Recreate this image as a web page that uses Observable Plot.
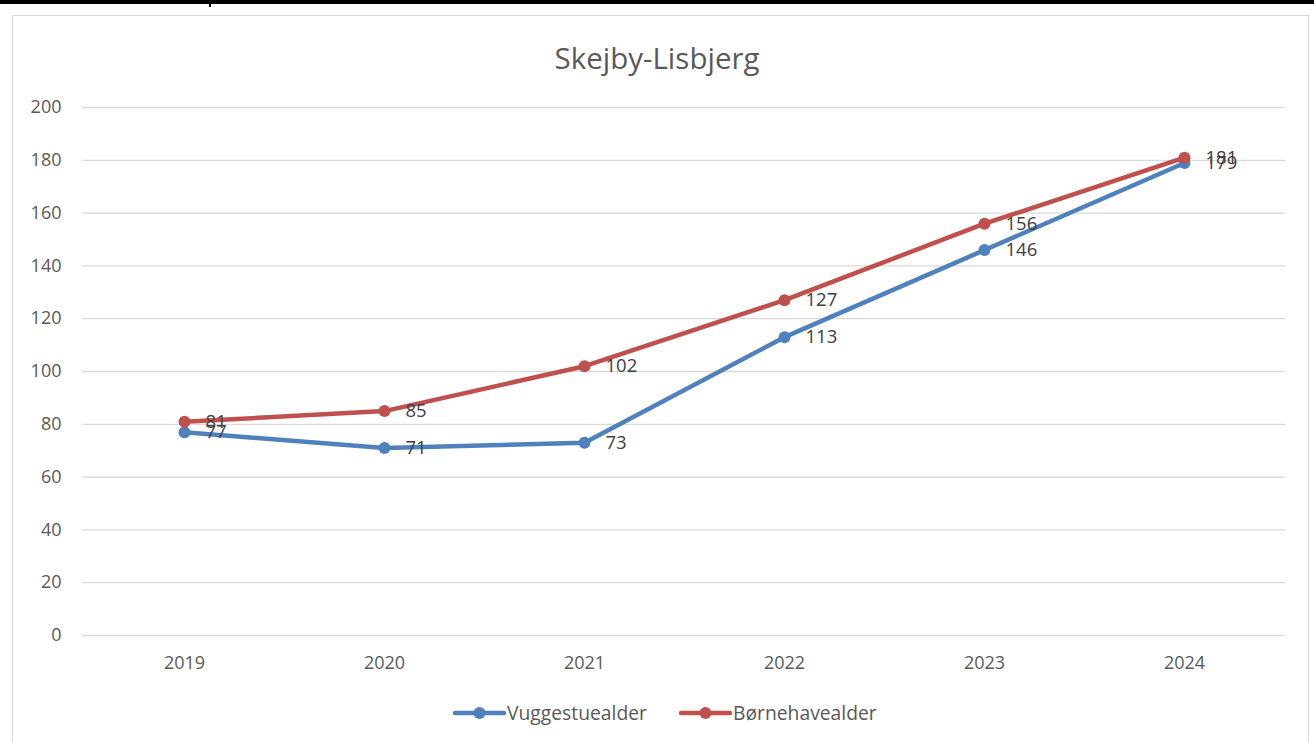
<!DOCTYPE html>
<html>
<head>
<meta charset="utf-8">
<script src="https://cdn.jsdelivr.net/npm/d3@7"></script>
<script src="https://cdn.jsdelivr.net/npm/@observablehq/plot@0.6"></script>
<style>
  html, body { margin: 0; padding: 0; background: #fff; }
  body { width: 1314px; height: 742px; position: relative; overflow: hidden; font-family: "Open Sans", Lato, sans-serif; }
  #topbar { position: absolute; left: 0; top: 0; width: 1314px; height: 4px; background: #000; }
  #topnotch { position: absolute; left: 209px; top: 0; width: 2px; height: 7px; background: #000; }
  #frame { position: absolute; left: 12px; top: 15px; width: 1297px; height: 740px; border: 1.5px solid #d9d9d9; box-sizing: border-box; }
  #chart { position: absolute; left: 0; top: 0; }
  #title { position: absolute; left: 0; width: 1314px; top: 38px; text-align: center; font-size: 29.5px; color: #595959; line-height: 40px; }
  #legend { position: absolute; top: 700px; left: 0; width: 1314px; height: 26px; }
  .item { position: absolute; top: 0; display: flex; align-items: center; font-size: 19.3px; color: #595959; line-height: 26px; }
</style>
</head>
<body>
<div id="topbar"></div>
<div id="topnotch"></div>
<div id="frame"></div>
<div id="chart"></div>
<div id="title">Skejby-Lisbjerg</div>
<div id="legend"></div>
<script>
const years = ["2019", "2020", "2021", "2022", "2023", "2024"];
const vuggestuealder = [77, 71, 73, 113, 146, 179];
const boernehavealder = [81, 85, 102, 127, 156, 181];
const seriesNames = ["Vuggestuealder", "Børnehavealder"];
const seriesColors = ["#4F81BD", "#C0504D"];
const yTicks = [0, 20, 40, 60, 80, 100, 120, 140, 160, 180, 200];

const data = [];
years.forEach((yr, i) => {
  data.push({year: yr, value: vuggestuealder[i], series: seriesNames[0]});
});
years.forEach((yr, i) => {
  data.push({year: yr, value: boernehavealder[i], series: seriesNames[1]});
});

const chart = Plot.plot({
  width: 1314,
  height: 742,
  marginLeft: 82,
  marginRight: 29,
  marginTop: 107,
  marginBottom: 107,
  style: {fontFamily: "'Open Sans', Lato, sans-serif", background: "transparent"},
  x: {type: "point", domain: years, padding: 0.5, label: null},
  y: {domain: [0, 200], label: null},
  color: {domain: seriesNames, range: seriesColors},
  marks: [
    Plot.gridY(yTicks, {stroke: "#d9d9d9", strokeOpacity: 1, strokeWidth: 1.3}),
    Plot.axisY(yTicks, {tickSize: 0, tickPadding: 21, fontSize: 18, fill: "#595959", label: null}),
    Plot.axisX(years, {tickSize: 0, tickPadding: 21, fontSize: 18, fill: "#595959", label: null}),
    Plot.line(data, {x: "year", y: "value", z: "series", stroke: "series", strokeWidth: 4.5, strokeLinecap: "round", strokeLinejoin: "round"}),
    Plot.dot(data, {x: "year", y: "value", fill: "series", r: 6, stroke: null}),
    Plot.text(data, {x: "year", y: "value", text: d => String(d.value), dx: 21, textAnchor: "start", fontSize: 18.5, fill: "#404040"})
  ]
});
document.getElementById("chart").appendChild(chart);

// legend
const legend = document.getElementById("legend");
const legendLeft = [453, 679];
seriesNames.forEach((name, i) => {
  const item = document.createElement("div");
  item.className = "item";
  item.style.left = legendLeft[i] + "px";
  item.innerHTML = `<svg width="53" height="26"><line x1="2" y1="13" x2="51" y2="13" stroke="${seriesColors[i]}" stroke-width="4.5" stroke-linecap="round"/><circle cx="26.5" cy="13" r="6" fill="${seriesColors[i]}"/></svg><span style="margin-left:1px">${name}</span>`;
  legend.appendChild(item);
});
</script>
</body>
</html>
